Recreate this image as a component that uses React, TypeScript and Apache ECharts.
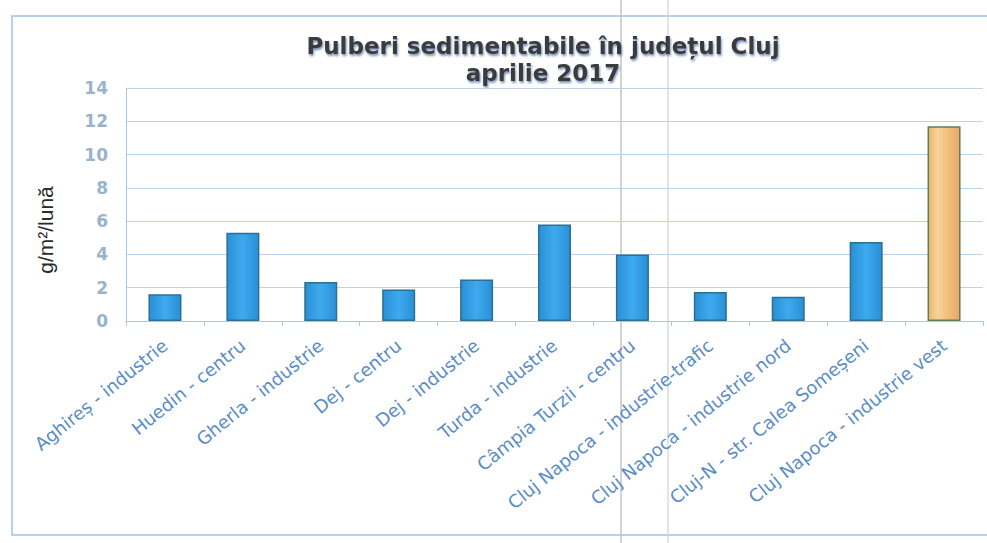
import React, { useEffect, useRef } from "react";
import * as echarts from "echarts";

const categories = [
  "Aghireș - industrie",
  "Huedin - centru",
  "Gherla - industrie",
  "Dej - centru",
  "Dej - industrie",
  "Turda - industrie",
  "Câmpia Turzii - centru",
  "Cluj Napoca - industrie-trafic",
  "Cluj Napoca - industrie nord",
  "Cluj-N - str. Calea Someșeni",
  "Cluj Napoca - industrie vest",
];
const values = [1.6, 5.3, 2.35, 1.9, 2.5, 5.8, 4.0, 1.75, 1.45, 4.75, 11.7];
const yTicks = { min: 0, max: 14, interval: 2 };
const titleLine1 = "Pulberi sedimentabile în județul Cluj";
const titleLine2 = "aprilie 2017";
const yName = "g/m²/lună";

export default function App() {
  const ref = useRef<HTMLDivElement>(null);
  useEffect(() => {
    if (!ref.current) return;
    const chart = echarts.init(ref.current, undefined, { renderer: "svg" });
    const blue = {
      type: "linear",
      x: 0, y: 0, x2: 1, y2: 0,
      colorStops: [
        { offset: 0, color: "#2a8fd6" },
        { offset: 0.5, color: "#3eaaee" },
        { offset: 1, color: "#2a8fd6" },
      ],
    };
    const orange = {
      type: "linear",
      x: 0, y: 0, x2: 1, y2: 0,
      colorStops: [
        { offset: 0, color: "#f0b46e" },
        { offset: 0.3, color: "#f8d49a" },
        { offset: 0.6, color: "#f3c07e" },
        { offset: 1, color: "#eaa866" },
      ],
    };
    const titleStyle = {
      fill: "#3a3a3a",
      font: "bold 23px 'DejaVu Sans', sans-serif",
      textAlign: "center",
      textVerticalAlign: "middle",
      textShadowColor: "rgba(80,110,160,0.75)",
      textShadowBlur: 2,
      textShadowOffsetX: 1,
      textShadowOffsetY: 2,
    };
    chart.setOption({
      animation: false,
      backgroundColor: "#ffffff",
      grid: { left: 126, right: 4, top: 88, bottom: 222, containLabel: false },
      graphic: [
        {
          type: "rect",
          shape: { x: 12, y: 16, width: 990, height: 519 },
          style: { fill: "none", stroke: "#9cc3e6", lineWidth: 1.5 },
          silent: true,
        },
        {
          type: "line",
          shape: { x1: 621, y1: 0, x2: 621, y2: 543 },
          style: { stroke: "#c4c4c4", lineWidth: 1.5 },
          silent: true,
        },
        {
          type: "line",
          shape: { x1: 668, y1: 0, x2: 668, y2: 543 },
          style: { stroke: "#d2d2d2", lineWidth: 1.2 },
          silent: true,
        },
        {
          type: "text",
          x: 543,
          y: 46,
          style: { ...titleStyle, text: titleLine1 },
        },
        {
          type: "text",
          x: 543,
          y: 73,
          style: { ...titleStyle, text: titleLine2 },
        },
        {
          type: "text",
          x: 45,
          y: 230,
          rotation: Math.PI / 2,
          style: {
            text: yName,
            fill: "#2b2b2b",
            font: "21px Arial, 'Liberation Sans', sans-serif",
            textAlign: "center",
            textVerticalAlign: "middle",
          },
        },
      ],
      xAxis: {
        type: "category",
        data: categories,
        axisLine: { show: true, lineStyle: { color: "#a9c8e6" } },
        axisTick: { show: true, length: 5, lineStyle: { color: "#a9c8e6" } },
        axisLabel: {
          rotate: 39,
          interval: 0,
          margin: 22,
          color: "#5a8cc6",
          fontSize: 18,
          fontFamily: "'DejaVu Sans', sans-serif",
        },
      },
      yAxis: {
        type: "value",
        min: yTicks.min,
        max: yTicks.max,
        interval: yTicks.interval,
        axisLine: { show: true, lineStyle: { color: "#a9c8e6" } },
        axisTick: { show: false },
        splitLine: { lineStyle: { color: "#bcd3ec", width: 1 } },
        axisLabel: {
          color: "#9ab3cc",
          fontSize: 17,
          fontWeight: "bold",
          margin: 18,
          fontFamily: "'DejaVu Sans', sans-serif",
        },
      },
      series: [
        {
          type: "bar",
          barWidth: 33,
          data: values.map((v, i) => ({
            value: v,
            itemStyle:
              i === values.length - 1
                ? { color: orange, borderColor: "#5f7f58", borderWidth: 1.5 }
                : { color: blue, borderColor: "#2b6f92", borderWidth: 1.5 },
          })),
        },
      ],
    });
    return () => chart.dispose();
  }, []);
  return (
    <div
      ref={ref}
      style={{ position: "fixed", left: 0, top: 0, width: 987, height: 543 }}
    />
  );
}
